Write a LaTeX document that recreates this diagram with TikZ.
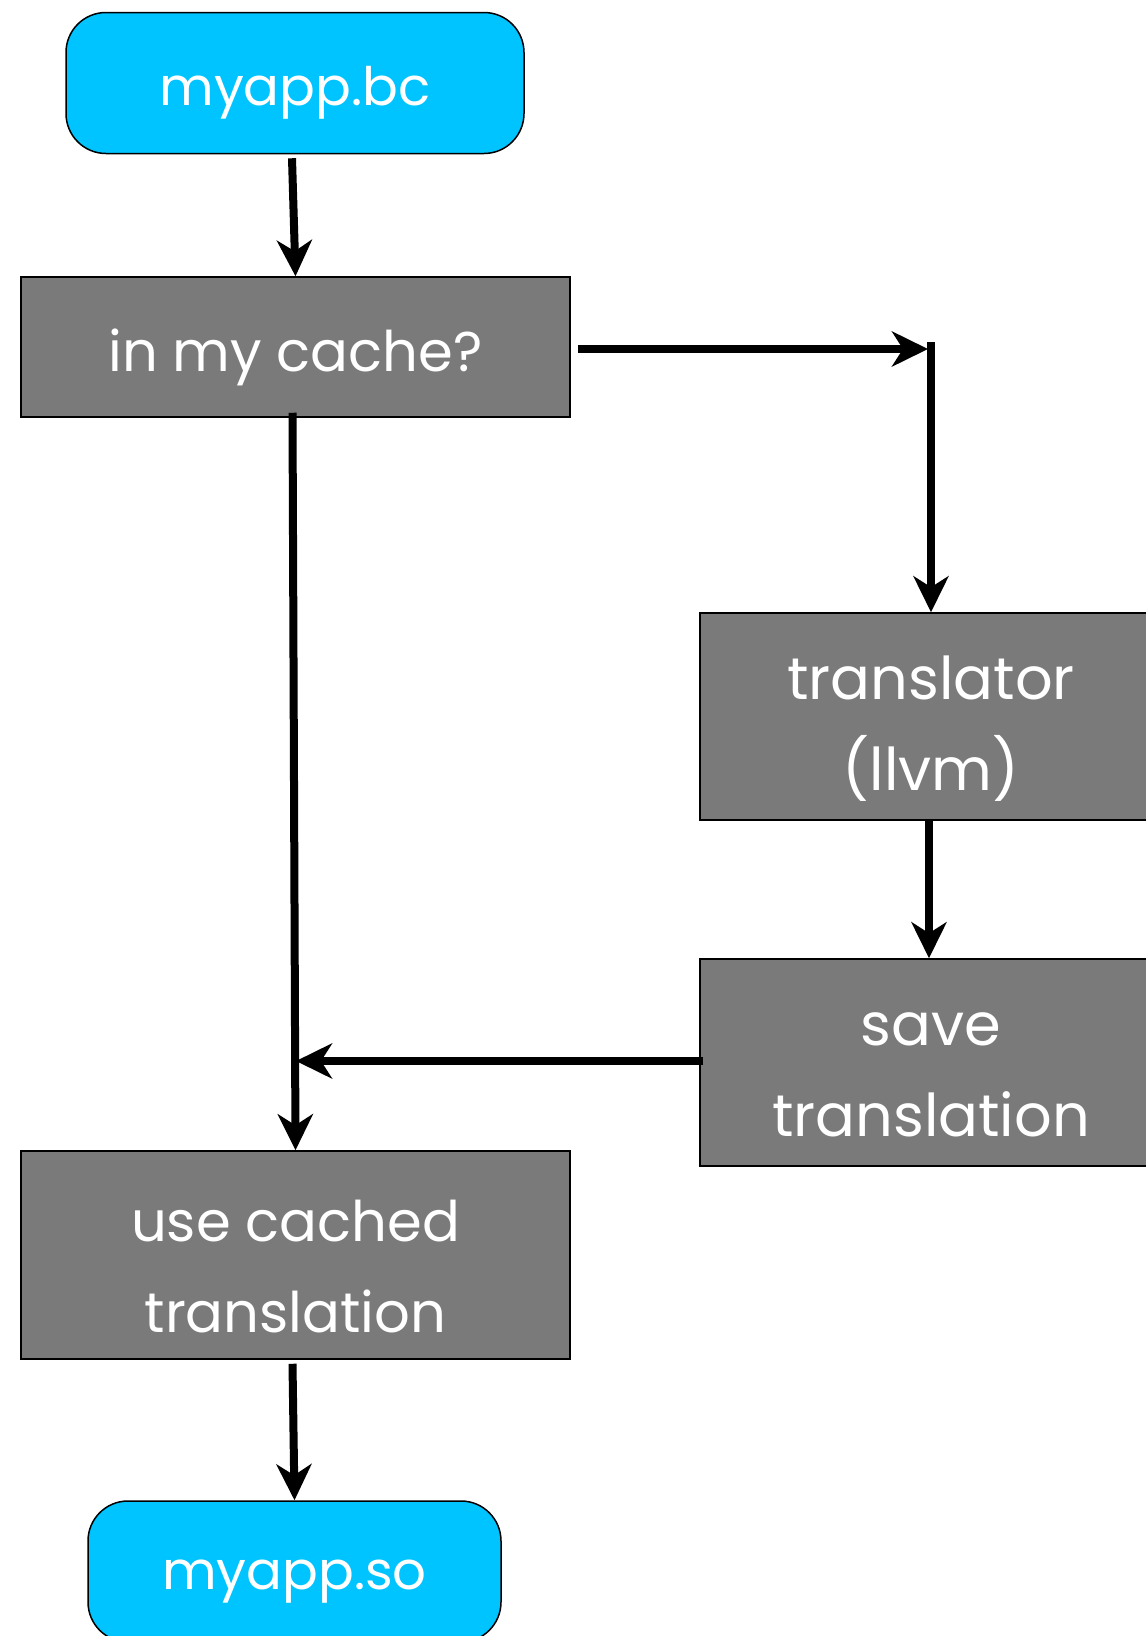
\documentclass[tikz,border=0pt]{standalone}
\usepackage{fontspec}
\setmainfont{Poppins}
\usetikzlibrary{arrows.meta,calc}
\definecolor{termcyan}{RGB}{0,196,255}
\definecolor{stepgray}{RGB}{122,122,122}
\begin{document}
\begin{tikzpicture}[x=1pt,y=-1pt,
  every node/.style={text=white,font=\fontsize{56}{91}\selectfont,align=center,inner sep=0pt},
  terminal/.style={draw=black,line width=1.5pt,fill=termcyan,rounded corners=40pt,
    minimum width=458pt,minimum height=141pt},
  stepbox/.style={draw=black,line width=1.5pt,fill=stepgray,
    minimum width=549pt,minimum height=140pt},
  sidebox/.style={draw=black,line width=1.5pt,fill=stepgray,
    minimum width=462pt,minimum height=207pt},
  flow/.style={line width=8pt,-{Stealth[length=36pt,width=35pt,inset=11pt]}},
  label/.style={anchor=center}]
\useasboundingbox (0,0) rectangle (1146,1636);
\clip (0,0) rectangle (1146,1636);

% boxes
\node[terminal] (bc) at (295,83) {};
\node[stepbox] (cache) at (295.5,347) {};
\node[sidebox] (trans) at (931,716.5) {};
\node[sidebox] (save) at (931,1062.5) {};
\node[stepbox,minimum height=208pt] (use) at (295.5,1255) {};
\node[terminal,minimum width=413pt] (so) at (294.5,1571.5) {};

% labels, set a little below each box centre
\node[label,font=\fontsize{53}{91}\selectfont] (bct) at ($(bc)+(0,10)$) {myapp.bc};
\node[label] (cachet) at ($(cache)+(0,10)$) {in my cache?};
\node[label,font=\fontsize{59}{91}\selectfont] (transt) at ($(trans)+(0,12)$) {translator\\(llvm)};
\node[label,font=\fontsize{59}{91}\selectfont] (savet) at ($(save)+(0,12)$) {save\\translation};
\node[label] (uset) at ($(use)+(0,12)$) {use cached\\translation};
\node[label,font=\fontsize{53}{91}\selectfont] (sot) at ($(so)+(0,10)$) {myapp.so};

% connectors
\coordinate (corner) at (931,349);
\coordinate (merge) at (293,1061);

\draw[flow] ($(bc.south)+(-3,4)$) -- (cache.north);
\draw[flow] ($(cache.east)+(7,2)$) -- ($(corner)+(-3,0)$);
\draw[flow] ($(corner)+(0,-7)$) -- (trans.north);
\draw[flow] ($(cache.south)+(-3,-5)$) -- (use.north);
\draw[flow] ($(trans.south)+(-2,0)$) -- ($(save.north)+(-2,0)$);
\draw[flow] ($(save.west)+(4,-1.5)$) -- ($(merge)+(3,0)$);
\draw[flow] ($(use.south)+(-3,4)$) -- (so.north);
\end{tikzpicture}
\end{document}
